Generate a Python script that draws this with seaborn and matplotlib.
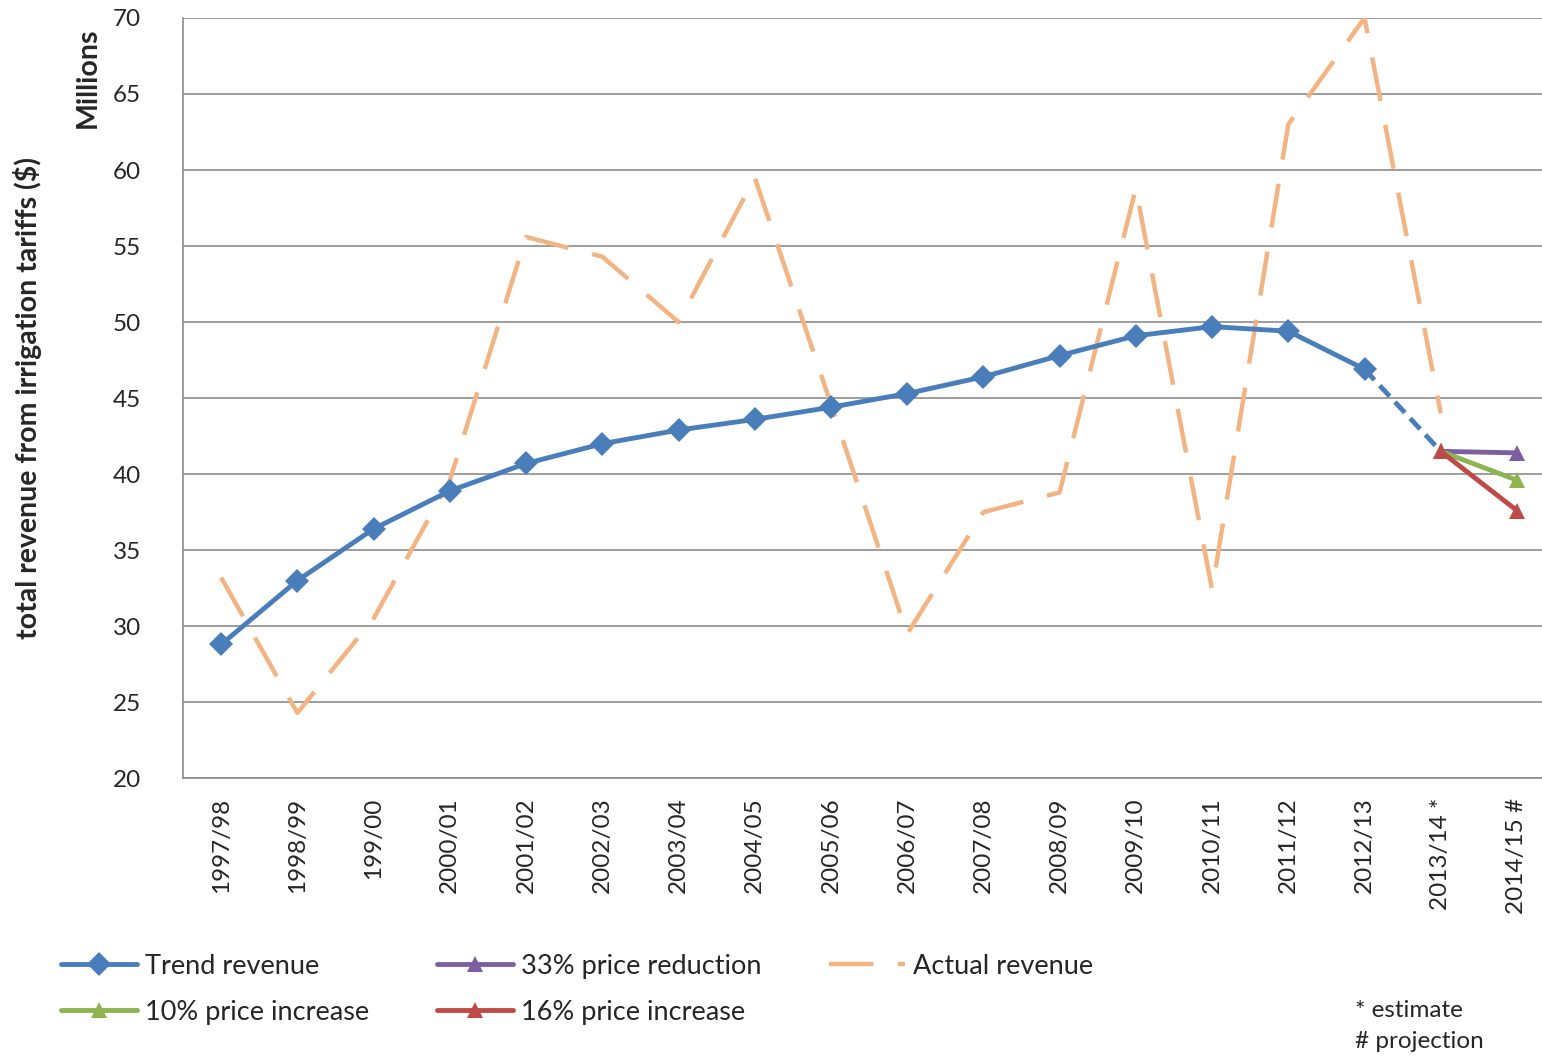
import matplotlib
matplotlib.use("Agg")
import matplotlib.pyplot as plt
import pandas as pd
import seaborn as sns

### --- Data ($ millions)

years = ["1997/98", "1998/99", "199/00", "2000/01", "2001/02", "2002/03", "2003/04",
         "2004/05", "2005/06", "2006/07", "2007/08", "2008/09", "2009/10", "2010/11",
         "2011/12", "2012/13", "2013/14 *", "2014/15 #"]

trend = [28.8, 33.0, 36.4, 38.9, 40.7, 42.0, 42.9, 43.6, 44.4, 45.3, 46.4, 47.8,
         49.1, 49.7, 49.4, 46.9]
trend_estimate = [46.9, 41.5]          # 2012/13 -> 2013/14 (dashed)
actual = [33.2, 24.3, 30.5, 39.6, 55.6, 54.3, 50.0, 59.5, 44.6, 29.5, 37.5, 38.8,
          58.8, 32.4, 63.0, 70.0, 44.0]
price_cut_33 = [41.5, 41.4]             # 2013/14 -> 2014/15
price_up_10 = [41.5, 39.6]
price_up_16 = [41.5, 37.6]

blue = "#4A7EBB"
orange = "#F2B482"
purple = "#7D5FA0"
green = "#8EB44F"
red = "#BE4B48"

### --- Figure

sns.set_style("white")
plt.rcParams["font.family"] = ["Lato", "DejaVu Sans"]

fig = plt.figure(figsize=(15.42, 10.56), dpi=100)
ax = fig.add_axes([0.1187, 0.263, 0.8898, 0.72])

pos = list(range(len(years)))

trend_df = pd.DataFrame({"x": pos[:len(trend)], "y": trend})
actual_df = pd.DataFrame({"x": pos[:len(actual)], "y": actual})
est_df = pd.DataFrame({"x": pos[15:17], "y": trend_estimate})
proj_x = pos[16:18]

sns.lineplot(data=actual_df, x="x", y="y", ax=ax, color=orange, lw=3.2,
             dashes=False, label="Actual revenue", zorder=2)
ax.lines[-1].set_dashes([10, 5.5])

sns.lineplot(data=est_df, x="x", y="y", ax=ax, color=blue, lw=3.5, legend=False, zorder=3)
ax.lines[-1].set_dashes([3, 1.6])

sns.lineplot(data=trend_df, x="x", y="y", ax=ax, color=blue, lw=3.5, marker="D",
             markersize=12, markeredgewidth=0, label="Trend revenue", zorder=4)

sns.lineplot(x=proj_x, y=price_cut_33, ax=ax, color=purple, lw=3.5, marker="^",
             markersize=12, markeredgewidth=0, label="33% price reduction", zorder=5)
sns.lineplot(x=proj_x, y=price_up_10, ax=ax, color=green, lw=3.5, marker="^",
             markersize=12, markeredgewidth=0, label="10% price increase", zorder=5)
sns.lineplot(x=proj_x, y=price_up_16, ax=ax, color=red, lw=3.5, marker="^",
             markersize=12, markeredgewidth=0, label="16% price increase", zorder=6)

# axes styling
ax.set_xlim(-0.5, len(years) - 0.5)
ax.set_ylim(20, 70)
ax.set_yticks(range(20, 71, 5))
ax.set_xticks(pos)
ax.set_xticklabels(years, rotation=90, fontsize=17.5)
ax.tick_params(axis="y", labelsize=17.5, length=0, pad=30)
ax.tick_params(axis="x", length=0, pad=14)
ax.yaxis.grid(True, color="#8C8C8C", lw=1.2)
ax.set_axisbelow(True)
for side in ["top", "right"]:
    ax.spines[side].set_visible(False)
for side in ["left", "bottom"]:
    ax.spines[side].set_color("#8C8C8C")
    ax.spines[side].set_linewidth(1.2)
ax.set_xlabel("")
ax.set_ylabel("")

fig.text(0.018, 0.623, "total revenue from irrigation tariffs ($)", rotation=90,
         ha="center", va="center", fontsize=20.5, fontweight="bold")
fig.text(0.057, 0.974, "Millions", rotation=90, ha="center", va="top",
         fontsize=20.5, fontweight="bold")

# legend below the plot, in the reference order
handles, labels = ax.get_legend_handles_labels()
order = ["Trend revenue", "10% price increase", "33% price reduction",
         "16% price increase", "Actual revenue"]
hmap = dict(zip(labels, handles))
ax.legend([hmap[k] for k in order], order, ncol=3, frameon=False, fontsize=19.5,
          loc="upper left", bbox_to_anchor=(0.024, 0.12), bbox_transform=fig.transFigure,
          handlelength=2.8, handletextpad=0.3, columnspacing=2.5, labelspacing=0.78)

fig.text(0.879, 0.004, "* estimate\n# projection", ha="left", va="bottom",
         fontsize=17.5, linespacing=1.6)

fig.savefig("out.png", dpi=100)
